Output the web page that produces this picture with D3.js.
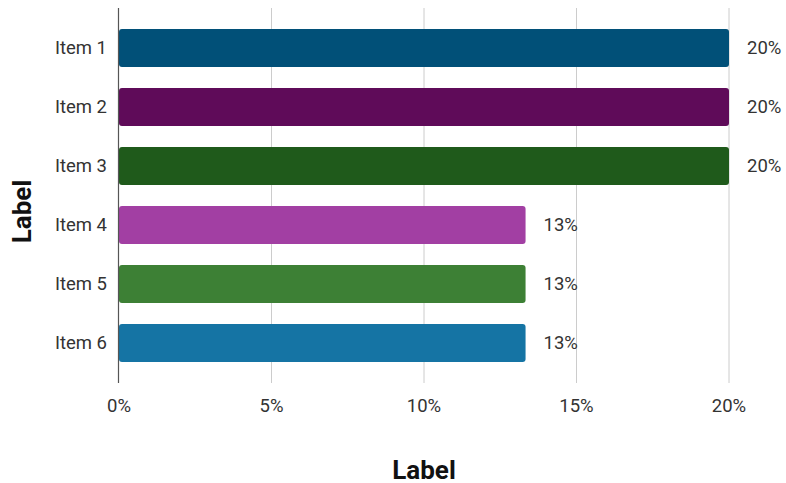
<!DOCTYPE html>
<meta charset="utf-8">

<style>
  body {
    margin: 0px;
    background: #fff;
  }

  text {
    font-family: Roboto, sans-serif;
    fill: #333;
  }

  .grid line {
    stroke: #ccc;
  }

  .title {
    font-weight: bold;
    font-size: 26px;
    fill: #111;
  }
</style>

<script src="https://d3js.org/d3.v7.min.js"></script>

<body>
  <svg class="chart"></svg>
</body>

<script>
const items = ['Item 1', 'Item 2', 'Item 3', 'Item 4', 'Item 5', 'Item 6'];
const values = [20, 20, 20, 13.33, 13.33, 13.33];
const colors = ['#015078', '#5f0b59', '#1f5a1b', '#a23fa3', '#3d8035', '#1574a4'];
const xTicks = [0, 5, 10, 15, 20];

const width = 786;
const height = 483;
const margin = {top: 8, right: 57, bottom: 100, left: 119};
const fontSize = '18.5px';

const data = items.map(function(d, i) { return {name: d, value: values[i], color: colors[i]}; });

const svg = d3.select('.chart')
    .attr('width', width)
    .attr('height', height);

const x = d3.scaleLinear()
    .domain([0, 20])
    .range([margin.left, width - margin.right]);

const y = d3.scaleBand()
    .domain(items)
    .range([margin.top, height - margin.bottom])
    .paddingInner(0.356)
    .paddingOuter(0.356);

// vertical gridlines
svg.append('g')
    .attr('class', 'grid')
  .selectAll('line')
    .data(xTicks.slice(1))
  .enter().append('line')
    .attr('x1', function(d) { return x(d); })
    .attr('x2', function(d) { return x(d); })
    .attr('y1', margin.top)
    .attr('y2', height - margin.bottom);

svg.append('g')
  .selectAll('rect')
    .data(data)
  .enter().append('rect')
    .attr('x', x(0))
    .attr('y', function(d) { return y(d.name); })
    .attr('width', function(d) { return x(d.value) - x(0); })
    .attr('height', y.bandwidth())
    .attr('rx', 3)
    .attr('fill', function(d) { return d.color; });

// left axis line
svg.append('line')
    .attr('x1', x(0) - 0.5)
    .attr('x2', x(0) - 0.5)
    .attr('y1', margin.top)
    .attr('y2', height - margin.bottom)
    .attr('stroke', '#555')
    .attr('stroke-width', 1.2);

// category labels
svg.append('g')
  .selectAll('text')
    .data(data)
  .enter().append('text')
    .attr('x', x(0) - 12)
    .attr('y', function(d) { return y(d.name) + y.bandwidth() / 2; })
    .attr('text-anchor', 'end')
    .attr('dominant-baseline', 'central')
    .style('font-size', fontSize)
    .text(function(d) { return d.name; });

// value labels
svg.append('g')
  .selectAll('text')
    .data(data)
  .enter().append('text')
    .attr('x', function(d) { return x(d.value) + 18; })
    .attr('y', function(d) { return y(d.name) + y.bandwidth() / 2; })
    .attr('dominant-baseline', 'central')
    .style('font-size', fontSize)
    .text(function(d) { return d3.format('.0f')(d.value) + '%'; });

// x tick labels
svg.append('g')
  .selectAll('text')
    .data(xTicks)
  .enter().append('text')
    .attr('x', function(d) { return x(d); })
    .attr('y', height - margin.bottom + 23)
    .attr('text-anchor', 'middle')
    .attr('dominant-baseline', 'central')
    .style('font-size', fontSize)
    .text(function(d) { return d + '%'; });

svg.append('text')
    .attr('class', 'title')
    .attr('x', (x(0) + x(20)) / 2)
    .attr('y', 479)
    .attr('text-anchor', 'middle')
    .text('Label');

svg.append('text')
    .attr('class', 'title')
    .attr('transform', 'translate(31, 211.5) rotate(-90)')
    .attr('text-anchor', 'middle')
    .text('Label');
</script>
